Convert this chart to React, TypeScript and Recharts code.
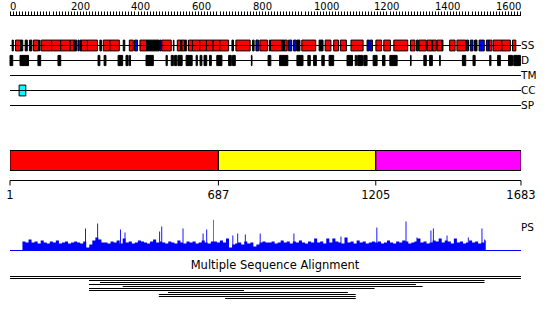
import {
  ComposedChart,
  BarChart,
  Bar,
  AreaChart,
  Area,
  XAxis,
  YAxis,
  ReferenceArea,
  ReferenceLine,
} from "recharts";

const LENGTH = 1683;
const TRACKS = ["SS", "D", "TM", "CC", "SP"];
const RULER_LABELS = [0, 200, 400, 600, 800, 1000, 1200, 1400, 1600];
const RULER_TICKS = Array.from({ length: 169 }, (_, i) => i * 10);

// secondary structure: [start, end, kind]  H = helix, E = strand, B = blue
const SS_SEGMENTS: [number, number, string][] = [
  [7, 11, "E"], [18, 35, "H"], [35, 42, "E"], [50, 57, "E"], [64, 72, "E"],
  [77, 94, "H"], [97, 99, "E"], [103, 137, "H"], [137, 167, "H"], [167, 198, "H"],
  [198, 211, "H"], [211, 220, "E"], [224, 228, "B"], [231, 235, "E"], [235, 255, "H"],
  [255, 288, "H"], [296, 301, "E"], [307, 329, "H"], [329, 360, "H"], [373, 378, "E"],
  [393, 406, "H"], [410, 420, "B"], [428, 450, "H"], [450, 492, "E"], [494, 498, "B"],
  [500, 531, "H"], [538, 540, "E"], [551, 562, "H"], [562, 566, "E"], [566, 575, "H"],
  [575, 578, "E"], [578, 582, "H"], [588, 601, "H"], [601, 625, "H"], [625, 647, "H"],
  [647, 669, "H"], [669, 691, "H"], [691, 720, "H"], [731, 736, "E"], [744, 791, "H"],
  [799, 804, "E"], [810, 819, "B"], [823, 848, "H"], [854, 857, "E"], [858, 895, "H"],
  [895, 904, "E"], [904, 913, "H"], [917, 928, "B"], [934, 943, "B"], [945, 955, "E"],
  [961, 1007, "H"], [1018, 1031, "E"], [1038, 1057, "H"], [1066, 1082, "H"], [1088, 1108, "H"],
  [1123, 1163, "H"], [1176, 1183, "B"], [1185, 1194, "B"], [1205, 1224, "H"], [1231, 1253, "H"],
  [1264, 1310, "H"], [1319, 1334, "H"], [1339, 1345, "B"], [1347, 1371, "H"], [1374, 1389, "H"],
  [1389, 1392, "E"], [1392, 1404, "H"], [1407, 1422, "H"], [1422, 1426, "E"], [1448, 1466, "H"],
  [1472, 1501, "H"], [1503, 1510, "B"], [1516, 1525, "B"], [1530, 1538, "E"], [1545, 1562, "B"],
  [1569, 1578, "B"], [1578, 1587, "H"], [1591, 1620, "H"], [1620, 1648, "H"], [1655, 1666, "H"],
];

// disorder regions
const D_SEGMENTS: [number, number][] = [
  [0, 9], [33, 61], [92, 101], [158, 167], [290, 296], [310, 316], [356, 371], [382, 389],
  [393, 397], [448, 472], [514, 518], [531, 538], [542, 549], [553, 567], [580, 600], [613, 617],
  [626, 632], [639, 648], [657, 663], [681, 698], [720, 729], [733, 742], [795, 797], [850, 859],
  [888, 915], [945, 965], [981, 989], [1000, 1009], [1027, 1035], [1051, 1066], [1110, 1128],
  [1137, 1141], [1145, 1161], [1165, 1176], [1196, 1209], [1227, 1235], [1251, 1275], [1319, 1321],
  [1363, 1371], [1382, 1391], [1415, 1417], [1490, 1501], [1525, 1532], [1580, 1584], [1606, 1615],
  [1642, 1655], [1659, 1681],
];

const CC_SEGMENTS: [number, number][] = [[30, 52]];

const DOMAINS = [
  { start: 1, end: 687, color: "#ff0000" },
  { start: 687, end: 1205, color: "#ffff00" },
  { start: 1205, end: 1683, color: "#ff00ff" },
];
const DOMAIN_TICKS = [1, 687, 1205, 1683];

// PS profile: one value per 10 residues starting at residue 42
const PS_START = 42;
const PS_STEP = 10;
const PS_END = 1567;
const PS_BASE = [
  9, 8, 11, 8, 9, 7, 10, 8, 7, 9, 8, 10, 7, 8, 9, 7, 8, 9, 8, 7, 9,
  3, 6,
  10, 13, 11, 8,
  8, 7, 9, 8, 10, 7, 12, 8, 9, 7, 8, 10, 9, 8, 7, 9, 11, 8, 9,
  8, 7, 9, 8, 7, 10, 8, 7, 9, 8, 9, 7, 8, 10, 8, 7, 9,
  9, 8, 10, 8, 12, 3, 6,
  7, 8, 6, 9, 7, 8, 4, 6, 8, 9, 8,
  8, 9, 7, 8, 10, 8, 9, 7, 9, 8, 10, 8, 7, 9, 8, 12, 8, 9, 7, 12,
  8, 12, 9, 8, 7, 13, 8, 9, 7, 10, 8, 9, 7, 8, 9,
  8, 9, 7, 8, 10, 8, 7, 9, 8, 10, 9, 7, 8, 9, 12, 8, 9, 7, 8, 10,
  9, 12, 8, 10, 9, 7, 12, 8, 9, 7, 8, 10, 8, 9, 7, 8, 10,
];
// narrow peaks: [residue, height]
const PS_SPIKES: [number, number][] = [
  [248, 22], [288, 27], [363, 21], [378, 18], [492, 19], [499, 24], [569, 22], [635, 17],
  [647, 21], [670, 31], [733, 15], [749, 17], [774, 16], [823, 17], [934, 17], [1089, 14],
  [1207, 23], [1303, 29], [1339, 13], [1385, 20], [1393, 22], [1438, 15], [1508, 13],
  [1553, 22], [1562, 11],
];

// multiple sequence alignment hits
const MSA_START = [1, 1, 261, 297, 261, 372, 261, 261, 521, 491, 491, 709];
const MSA_END = [1683, 1683, 1563, 1563, 1337, 1359, 1201, 771, 1113, 1139, 1139, 1139];

const SS_COLORS: Record<string, string> = { H: "#ff0000", E: "#000000", B: "#0000ff" };

const baseAt = (r: number) =>
  PS_BASE[Math.min(PS_BASE.length - 1, Math.max(0, Math.floor((r - PS_START) / PS_STEP)))];

const psRows = [
  ...PS_BASE.map((v, i) => ({ r: PS_START + i * PS_STEP, v })),
  ...PS_SPIKES.flatMap(([r, h]) => [
    { r, v: h },
    { r: r + 3, v: baseAt(r + 3) },
  ]),
  { r: PS_END, v: 0 },
].sort((a, b) => a.r - b.r);

const domainRow = [
  {
    name: "domains",
    lead: DOMAINS[0].start,
    d0: DOMAINS[0].end - DOMAINS[0].start,
    d1: DOMAINS[1].end - DOMAINS[1].start,
    d2: DOMAINS[2].end - DOMAINS[2].start,
  },
];

const msaRows = MSA_START.map((s, i) => ({ id: `hit${i}`, start: s, end: MSA_END[i] }));

function RulerTick(props: any) {
  const { x, y, payload } = props;
  const px = Math.round(x) + 0.5;
  const v = payload.value;
  return (
    <g>
      <line x1={px} x2={px} y1={y} y2={y - 4} stroke="#000" />
      {RULER_LABELS.includes(v) && (
        <text x={px - 0.5} y={y - 5.5} fontSize={10} fill="#000" textAnchor="start">
          {v}
        </text>
      )}
    </g>
  );
}

export default function App() {
  return (
    <div
      style={{
        position: "absolute",
        left: 0,
        top: 0,
        width: 550,
        height: 319,
        background: "#fff",
        fontFamily: "DejaVu Sans",
        overflow: "hidden",
      }}
    >
      <div style={{ position: "absolute", left: 0, top: 0 }}>
        <ComposedChart width={550} height={121} data={[{ x: 0 }]} margin={{ top: 0, right: 0, bottom: 0.5, left: 10 }}>
          <XAxis
            orientation="top"
            type="number"
            dataKey="x"
            domain={[0, LENGTH]}
            ticks={RULER_TICKS}
            interval={0}
            height={15.5}
            tickLine={false}
            tickSize={0}
            tickMargin={0}
            stroke="#000"
            tick={(p: any) => <RulerTick {...p} />}
            allowDataOverflow
          />
          <YAxis
            orientation="right"
            type="number"
            domain={[-2, 5]}
            reversed
            ticks={[0, 1, 2, 3, 4]}
            interval={0}
            tickFormatter={(v: number) => TRACKS[v]}
            width={29}
            axisLine={false}
            tickLine={false}
            tickSize={0}
            tickMargin={0}
            tick={{ fontSize: 10.5, fill: "#000" }}
            allowDataOverflow
          />
          {TRACKS.map((t, i) => (
            <ReferenceLine key={t} y={i} stroke="#000" strokeWidth={1} ifOverflow="visible" />
          ))}
          {SS_SEGMENTS.map(([s, e, k], i) => (
            <ReferenceArea
              key={`ss${i}`}
              x1={s}
              x2={e}
              y1={-0.36}
              y2={0.36}
              fill={SS_COLORS[k]}
              fillOpacity={1}
              stroke="#000"
              strokeWidth={1}
              ifOverflow="visible"
            />
          ))}
          {D_SEGMENTS.map(([s, e], i) => (
            <ReferenceArea
              key={`d${i}`}
              x1={s}
              x2={e}
              y1={0.66}
              y2={1.34}
              fill="#000"
              fillOpacity={1}
              stroke="#000"
              strokeWidth={1}
              ifOverflow="visible"
            />
          ))}
          {CC_SEGMENTS.map(([s, e], i) => (
            <ReferenceArea
              key={`cc${i}`}
              x1={s}
              x2={e}
              y1={2.64}
              y2={3.36}
              fill="#00ffff"
              fillOpacity={1}
              stroke="#000"
              strokeWidth={1}
              ifOverflow="visible"
            />
          ))}
        </ComposedChart>
      </div>

      <div style={{ position: "absolute", left: 0, top: 140 }}>
        <BarChart
          layout="vertical"
          width={550}
          height={60.5}
          data={domainRow}
          margin={{ top: 0.5, right: 29, bottom: 0, left: 10 }}
        >
          <XAxis
            type="number"
            domain={[1, LENGTH]}
            ticks={DOMAIN_TICKS}
            interval={0}
            height={20}
            tickSize={5}
            tickMargin={5}
            stroke="#000"
            tick={{ fontSize: 11.5, fill: "#000" }}
            allowDataOverflow
          />
          <YAxis type="category" dataKey="name" hide />
          <Bar dataKey="lead" stackId="dom" fill="none" stroke="none" barSize={20} isAnimationActive={false} />
          {DOMAINS.map((d, i) => (
            <Bar
              key={i}
              dataKey={`d${i}`}
              stackId="dom"
              fill={d.color}
              stroke="#000"
              strokeWidth={1}
              barSize={20}
              isAnimationActive={false}
            />
          ))}
        </BarChart>
      </div>

      <div style={{ position: "absolute", left: 0, top: 215 }}>
        <AreaChart width={550} height={36.5} data={psRows} margin={{ top: 4.5, right: 29, bottom: 0, left: 10 }}>
          <XAxis
            type="number"
            dataKey="r"
            domain={[1, LENGTH]}
            height={1}
            tick={false}
            tickLine={false}
            stroke="#0000ff"
            allowDataOverflow
          />
          <YAxis type="number" domain={[0, 31]} hide allowDataOverflow />
          <Area
            type="stepAfter"
            dataKey="v"
            stroke="none"
            fill="#0000ff"
            fillOpacity={1}
            isAnimationActive={false}
            dot={false}
            activeDot={false}
          />
        </AreaChart>
      </div>
      <div
        style={{
          position: "absolute",
          left: 521,
          top: 221.5,
          fontSize: 10.5,
          lineHeight: "10.5px",
          color: "#000",
        }}
      >
        PS
      </div>

      <div
        style={{
          position: "absolute",
          left: 0,
          top: 259.8,
          width: 550,
          textAlign: "center",
          fontSize: 11.5,
          lineHeight: "11.5px",
          color: "#000",
        }}
      >
        Multiple Sequence Alignment
      </div>

      <div style={{ position: "absolute", left: 0, top: 275 }}>
        <BarChart
          layout="vertical"
          width={550}
          height={24}
          data={msaRows}
          margin={{ top: 0, right: 29, bottom: 0, left: 10 }}
        >
          <XAxis type="number" domain={[1, LENGTH]} hide allowDataOverflow />
          <YAxis type="category" dataKey="id" hide />
          <Bar
            dataKey={(d: any) => [d.start, d.end]}
            fill="#000"
            barSize={1}
            isAnimationActive={false}
          />
        </BarChart>
      </div>
    </div>
  );
}
